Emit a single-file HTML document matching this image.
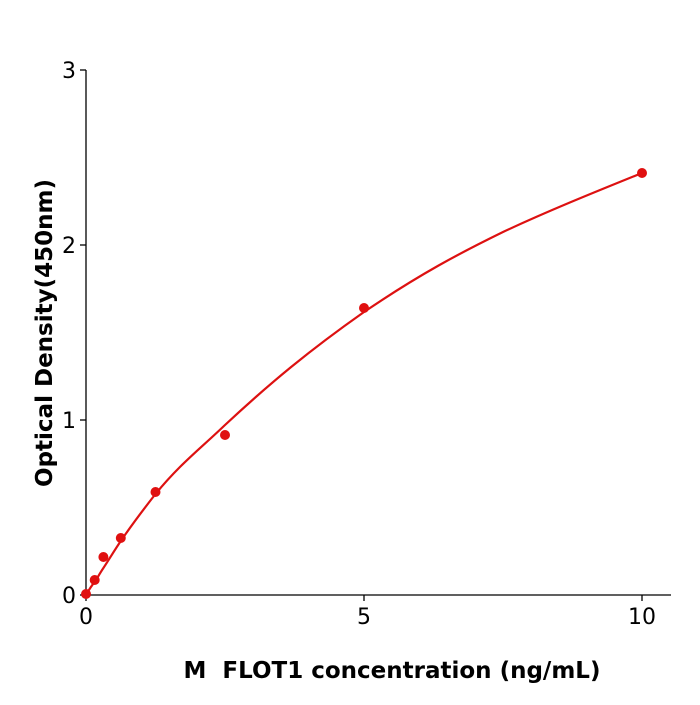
<!DOCTYPE html>
<html><head><meta charset="utf-8"><style>body{margin:0;background:#fff}</style></head>
<body>
<svg width="700" height="700" xmlns="http://www.w3.org/2000/svg" font-family="'DejaVu Sans','Liberation Sans',sans-serif">
<rect width="700" height="700" fill="#fff"/>
<g stroke="#000" stroke-width="1.3" fill="none">
<line x1="86" y1="70" x2="86" y2="595"/>
<line x1="86" y1="595" x2="671" y2="595"/>
<line x1="80" y1="70" x2="86" y2="70"/>
<line x1="80" y1="245" x2="86" y2="245"/>
<line x1="80" y1="420" x2="86" y2="420"/>
<line x1="80" y1="595" x2="86" y2="595"/>
<line x1="86" y1="595" x2="86" y2="601"/>
<line x1="364" y1="595" x2="364" y2="601"/>
<line x1="642" y1="595" x2="642" y2="601"/>
</g>
<g font-size="22" fill="#000" text-anchor="end">
<text x="76" y="78">3</text>
<text x="76" y="253">2</text>
<text x="76" y="428">1</text>
<text x="76" y="603">0</text>
</g>
<g font-size="22" fill="#000" text-anchor="middle">
<text x="86" y="624">0</text>
<text x="364" y="624">5</text>
<text x="642" y="624">10</text>
</g>
<text x="392" y="678" font-size="23" font-weight="bold" text-anchor="middle">M&#160; FLOT1 concentration (ng/mL)</text>
<text transform="translate(52,333) rotate(-90)" font-size="23" font-weight="bold" text-anchor="middle">Optical Density(450nm)</text>
<path d="M86,595 C90,588 92,585 94.7,582 C98,577 100,573 103.4,568 C110,558 114,551 120.8,541 C133,523 143,510 155.5,494 C180,464 200,449 225,425 C270,383 310,350 364,312 C420,274 460,253 503,232 C550,210 600,190 642,173" fill="none" stroke="#dd1111" stroke-width="2.2"/>
<g fill="#e01010">
<circle cx="86" cy="594" r="5"/>
<circle cx="94.7" cy="580" r="5"/>
<circle cx="103.4" cy="557" r="5"/>
<circle cx="120.8" cy="538" r="5"/>
<circle cx="155.5" cy="492" r="5"/>
<circle cx="225" cy="435" r="5"/>
<circle cx="364" cy="308" r="5"/>
<circle cx="642" cy="173" r="5"/>
</g>
</svg>
</body></html>
